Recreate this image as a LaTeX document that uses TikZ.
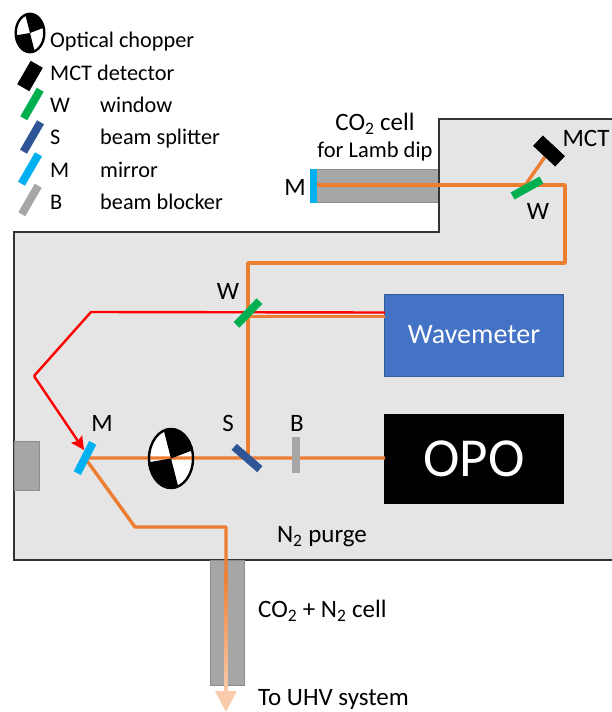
\documentclass[tikz,border=0pt]{standalone}
\usepackage{fontspec}
\setmainfont{Carlito}
\usetikzlibrary{arrows.meta,shapes.geometric}
\definecolor{beamorange}{HTML}{ED7D31}
\definecolor{beampeach}{HTML}{F8CBAD}
\definecolor{purgegray}{HTML}{E5E5E5}
\definecolor{cellgray}{HTML}{A6A6A6}
\definecolor{cellline}{HTML}{8C8C8C}
\definecolor{mirrorblue}{HTML}{00B0F0}
\definecolor{windowgreen}{HTML}{00B050}
\definecolor{splitterblue}{HTML}{2F5597}
\definecolor{metreblue}{HTML}{4472C4}

\begin{document}
\begin{tikzpicture}[%
    x=1pt,y=-1pt,               % Pixels of the reference, y going down
    >=Stealth,
    font=\fontsize{25}{29}\selectfont,
    ]
% -------------------------------------------------
% A few styles
\tikzset{
  optic/.style={inner sep=0pt, minimum height=8pt},
  mirror/.style={optic, fill=mirrorblue, minimum width=34pt},
  window/.style={optic, fill=windowgreen, minimum width=33pt},
  splitter/.style={optic, fill=splitterblue, minimum width=34pt},
  blocker/.style={optic, fill=cellgray, minimum width=36pt},
  detector/.style={inner sep=0pt, fill=black, minimum width=30pt, minimum height=14pt},
  cell/.style={draw=cellline, line width=1pt, fill=cellgray, inner sep=0pt},
  instrument/.style={inner sep=0pt, text=white},
  chopperdisc/.style={ellipse, fill=white, inner sep=0pt},
  txt/.style={inner sep=0pt},
  legtxt/.style={txt, anchor=base west, font=\fontsize{22.3}{26}\selectfont},
  % Connector line styles for the beams
  beam/.style={draw=beamorange, line width=3.4pt, line join=round},
  redbeam/.style={draw=red, line width=2.4pt, line join=round},
  % The black quarters and the rim of a chopper
  chopperwheel/.pic={
    \begin{scope}
      \clip (0,0) ellipse [x radius=23, y radius=30.5];
      \fill [black] (0,0) -- (-9,-35) -- (30,-35) -- (30,-11.5) -- cycle;
      \fill [black] (0,0) -- (9,35) -- (-30,35) -- (-30,5) -- cycle;
    \end{scope}
    \draw [black, line width=2.4pt] (0,0) ellipse [x radius=22, y radius=29.5];
  },
}
% -------------------------------------------------
% Purge box and the cells
\useasboundingbox (0,0) rectangle (612,712);
\node [cell, minimum width=123pt, minimum height=33pt] (labcell) at (377.5,185.5) {};
\draw [fill=purgegray, draw=black!80, line width=1.3pt]
  (612,560) -- (14,560) -- (14,232) -- (439,232) -- (439,119) -- (612,119);

\node [cell, minimum width=25pt, minimum height=49pt] (port) at (26.5,465.5) {};
\node [cell, minimum width=34pt, minimum height=125pt] (uhvcell) at (227,622.5) {};

% Instruments
\node [instrument, fill=metreblue, draw=metreblue!80!black, minimum width=179pt, minimum height=82pt, font=\fontsize{28}{32}\selectfont] (wavemeter) at (474,335) {Wavemeter};
\node [instrument, fill=black, minimum width=180pt, minimum height=90pt, font=\fontsize{55}{62}\selectfont] (opo) at (474,459) {OPO};

% Beam corners
\coordinate (topright) at (565,185);
\coordinate (lowright) at (565,263);
\coordinate (lowleft) at (248,263);
\coordinate (redcorner) at (91,312);
\coordinate (redleft) at (34,376);
\coordinate (dropa) at (135,527);
\coordinate (dropb) at (226,527);
\coordinate (wavein) at (385,312.5);
\coordinate (waveout) at (385,316.5);
\coordinate (opoout) at (385,458);
\coordinate (beamsplit) at (248,458);
\coordinate (wmeet) at (248,316.5);
\coordinate (mctwin) at (526,184);
\coordinate (mirrorhit) at (85,458);
\coordinate (cellhit) at (317,185);
\coordinate (fadestart) at (226,572);
\coordinate (uhvtip) at (226,712);
\coordinate (redhit) at (84,450);

% Chopper disc goes under the beam
\node [chopperdisc, minimum width=45pt, minimum height=60pt] (chopper) at (171,458.5) {};

% Beams
\draw [beam] (opoout) -- (mirrorhit) -- (dropa) -- (dropb) -- (fadestart);
\draw [beam] (cellhit) -- (topright) -- (lowright) -- (lowleft) -- (beamsplit);
\draw [beam] (wmeet) -- (waveout);
\node [inner sep=0pt, minimum width=3.4pt, minimum height=120pt, top color=beamorange, bottom color=beampeach] (fade) at (226,632) {};
\draw [draw=beampeach, line width=3.4pt, -{Triangle[length=21pt,width=21pt,fill=beampeach]}] (fade.south) -- (uhvtip);
\draw [redbeam] (wavein) -- (redcorner) -- (redleft);
\draw [redbeam, -{Stealth[length=13pt,width=13pt,inset=2pt]}] (redleft) -- (redhit);

% Optics on the table
\node [detector, rotate=-43] (mct) at (549,151) {};
\draw [beam] (mctwin) -- (mct);
\node [detector, rotate=-43] at (mct) {};
\node [window, rotate=29] (winup) at (527,188) {};
\node [window, rotate=46] (winlow) at (248,313) {};
\node [mirror, rotate=90, minimum height=7pt] (cellmirror) at (313.5,185.5) {};
\node [mirror, rotate=63] (table) at (85,458) {};
\node [splitter, rotate=-41] (split) at (247,458) {};
\node [blocker, rotate=90] (block) at (296,455) {};
\pic at (chopper) {chopperwheel};

% Labels on the table
\node [txt] (lbl-w1) at (228,291) {W};
\node [txt] (lbl-m1) at (102,423) {M};
\node [txt] (lbl-s) at (228,423) {S};
\node [txt] (lbl-b) at (297,423) {B};
\node [txt] (lbl-w2) at (538,211) {W};
\node [txt] (lbl-mct) at (586,138) {MCT};
\node [txt] (lbl-m2) at (295,187) {M};
\node [txt] (lbl-cell) at (375,124) {CO\textsubscript{2} cell};
\node [txt, font=\fontsize{22.5}{26}\selectfont] (lbl-lamb) at (375,151) {for Lamb dip};
\node [txt] (lbl-purge) at (322,537) {N\textsubscript{2} purge};
\node [txt, anchor=west] (lbl-co2) at (258,611) {CO\textsubscript{2} + N\textsubscript{2} cell};
\node [txt, anchor=west] (lbl-uhv) at (258,699) {To UHV system};

% -------------------------------------------------
% Legend
\node [chopperdisc, minimum width=29pt, minimum height=39pt] (legchopper) at (30,33) {};
\pic [scale=0.65] at (legchopper) {chopperwheel};
\node [detector, rotate=60, minimum width=27pt] (legmct) at (30,76) {};
\node [window, rotate=60] (legw) at (32,104) {};
\node [splitter, rotate=60] (legs) at (32,137) {};
\node [mirror, rotate=60] (legm) at (30,169) {};
\node [blocker, rotate=60, minimum width=33pt] (legb) at (30,200) {};

\node [legtxt] (t1) at (50,47) {Optical chopper};
\node [legtxt] (t2) at (50,80) {MCT detector};
\node [legtxt] (t3) at (50,112) {W};
\node [legtxt] (t3b) at (100,112) {window};
\node [legtxt] (t4) at (50,144) {S};
\node [legtxt] (t4b) at (100,144) {beam splitter};
\node [legtxt] (t5) at (50,177) {M};
\node [legtxt] (t5b) at (100,177) {mirror};
\node [legtxt] (t6) at (50,209) {B};
\node [legtxt] (t6b) at (100,209) {beam blocker};
% -------------------------------------------------
\end{tikzpicture}
\end{document}
